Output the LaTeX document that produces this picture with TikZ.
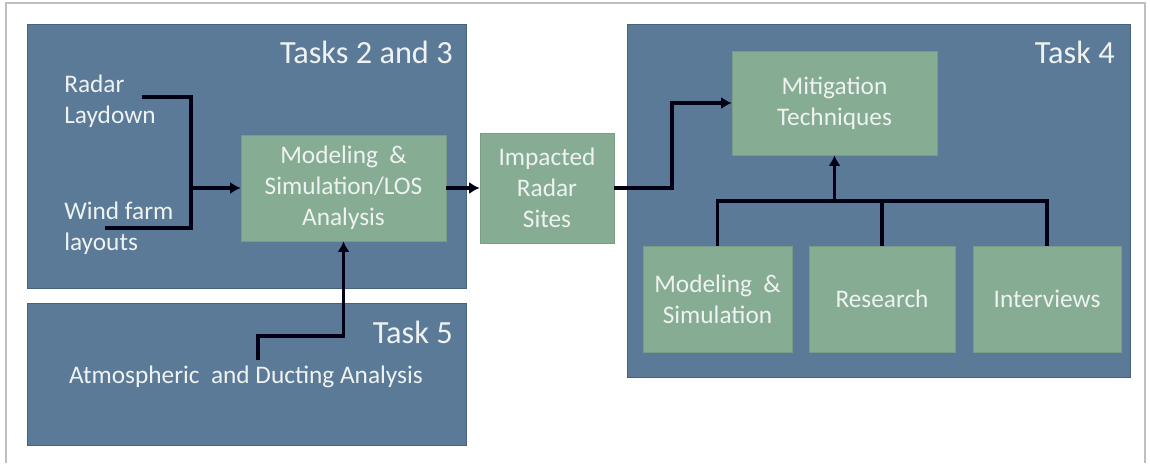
\documentclass[tikz,border=0pt]{standalone}
\usepackage{fontspec}
\setmainfont{Carlito}
\usepackage{tikz}
\usepackage{xcolor}
\usetikzlibrary{positioning,arrows.meta,calc}
\definecolor{panelblue}{HTML}{5B7A97}
\definecolor{paneledge}{HTML}{48627C}
\definecolor{boxgreen}{HTML}{87AC94}
\definecolor{boxedge}{HTML}{7A9C87}
\definecolor{paletext}{HTML}{EEF2F0}

\begin{document}
\begin{tikzpicture}[x=0.025cm,y=-0.025cm,
  panel/.style={draw=paneledge,fill=panelblue,line width=0.6pt,inner sep=0pt},
  box/.style={draw=boxedge,fill=boxgreen,line width=0.5pt,align=center,text=paletext,
    font=\fontsize{18}{22}\selectfont,inner sep=2pt},
  lbl/.style={text=paletext,font=\fontsize{18}{22}\selectfont,inner sep=0pt},
  ttl/.style={text=paletext,font=\fontsize{23}{27}\selectfont,inner sep=0pt,anchor=base east},
  wire/.style={line width=2.4pt,color=black!92!blue},
  arr/.style={wire,-{Latex[length=2.6mm,width=3mm]}}
]
\useasboundingbox (0,0) rectangle (1150,463);
\draw[gray!50,line width=0.8pt] (6,463) -- (6,3) -- (1145,3) -- (1145,463);

% panels
\node[panel,minimum width=10.975cm,minimum height=6.6cm] (p23) at (246.5,156) {};
\node[panel,minimum width=10.975cm,minimum height=3.55cm] (p5) at (246.5,374) {};
\node[panel,minimum width=12.575cm,minimum height=8.825cm] (p4) at (878.5,200.5) {};
\node[ttl] (t23) at (453,63) {Tasks 2 and 3};
\node[ttl] (t5) at (453,343) {Task 5};
\node[ttl] (t4) at (1115,63) {Task 4};

% inputs
\node[lbl,anchor=west,align=left] (radar) at (64,101) {Radar\\Laydown};
\node[lbl,anchor=west,align=left] (wind) at (64,228) {Wind farm\\layouts};
\node[lbl,anchor=base] (atmo) at (246,383) {Atmospheric\ \ and Ducting Analysis};

% boxes
\node[box,minimum width=5.125cm,minimum height=2.65cm] (model) at (343.5,188) {Modeling \ \&\\Simulation/LOS\\Analysis};
\node[box,minimum width=3.35cm,minimum height=2.75cm] (impact) at (547,188) {Impacted\\Radar\\Sites};
\node[box,minimum width=5.125cm,minimum height=2.6cm] (mitig) at (834.5,103) {Mitigation\\Techniques};
\node[box,minimum width=3.725cm,minimum height=2.65cm] (msim) at (717.5,299) {Modeling \ \&\\Simulation};
\node[box,minimum width=3.65cm,minimum height=2.65cm] (research) at (882,299) {Research};
\node[box,minimum width=3.7cm,minimum height=2.65cm] (interv) at (1047,299) {Interviews};

% connectors
\coordinate (rl) at (142,97);
\coordinate (wl) at (105,228);
\coordinate (j) at (191,188);
\coordinate (a5) at (258,360);
\coordinate (t5bend) at (343.5,336);
\coordinate (bend) at (672,188);
\coordinate (bus) at (834.5,201);

\draw[wire] (rl) -| (j);
\draw[wire] (wl) -| (j);
\draw[arr] (j) -- (model.west);
\draw[arr] (a5) |- (t5bend) -- (model.south);
\draw[arr] (model.east) -- (impact.west);
\draw[arr] (impact.east) -- (bend) |- (mitig.west);
\draw[wire] (msim.north) -- (msim.north |- bus) -- (interv.north |- bus) -- (interv.north);
\draw[wire] (research.north) -- (research.north |- bus);
\draw[arr] (bus) -- (mitig.south);
\end{tikzpicture}
\end{document}
